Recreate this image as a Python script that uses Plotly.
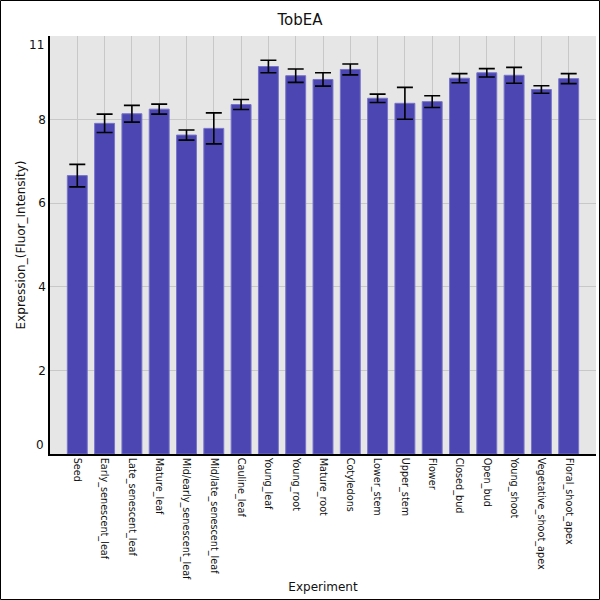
import plotly.graph_objects as go

categories = ["Seed", "Early_senescent_leaf", "Late_senescent_leaf", "Mature_leaf",
              "Mid/early_senescent_leaf", "Mid/late_senescent_leaf", "Cauline_leaf",
              "Young_leaf", "Young_root", "Mature_root", "Cotyledons", "Lower_stem",
              "Upper_stem", "Flower", "Closed_bud", "Open_bud", "Young_shoot",
              "Vegetative_shoot_apex", "Floral_shoot_apex"]
values = [6.66, 7.91, 8.14, 8.25, 7.63, 7.79, 8.36, 9.27, 9.05, 8.96, 9.20, 8.51,
          8.39, 8.43, 8.99, 9.12, 9.06, 8.72, 8.98]
errors = [0.27, 0.22, 0.20, 0.12, 0.12, 0.37, 0.12, 0.15, 0.16, 0.16, 0.13, 0.10,
          0.38, 0.14, 0.11, 0.10, 0.19, 0.09, 0.12]
ytick_vals = [2, 4, 6, 8]
ytick_text = ["2", "4", "6", "8"]
y_edge_labels = ["0", "11"]
y_range = [0, 10]

W, H = 600, 600
ML, MR, MT, MB = 50, 4, 36, 146
PW, PH = W - ML - MR, H - MT - MB

fig = go.Figure()
fig.add_trace(go.Bar(
    x=categories, y=values, width=0.73,
    marker=dict(color="rgb(75,70,178)", line=dict(color="rgb(120,116,200)", width=1)),
    error_y=dict(type="data", array=errors, visible=True, color="black",
                 thickness=1.6, width=8),
))

font = "DejaVu Sans"
fig.update_layout(
    width=W, height=H,
    margin=dict(l=ML, r=MR, t=MT, b=MB, autoexpand=False),
    paper_bgcolor="white", plot_bgcolor="#e6e6e6",
    font=dict(family=font, color="#222", size=12),
    showlegend=False,
    title=dict(text="TobEA", x=0.5, xanchor="center", y=1 - 20 / H, yanchor="middle",
               yref="container", font=dict(size=15, color="#111")),
    xaxis=dict(type="category", range=[-1, len(categories)], showgrid=True,
               gridcolor="#c8c8c8", gridwidth=1, tickangle=90,
               tickfont=dict(size=9.7, color="#111"), ticks="", showline=True,
               linecolor="black", linewidth=1.5, automargin=False,
               title=dict(text="Experiment", standoff=3, font=dict(size=12, color="#111"))),
    yaxis=dict(range=y_range, tickvals=ytick_vals, ticktext=ytick_text, showgrid=True,
               gridcolor="#c8c8c8", gridwidth=1, ticks="", showline=True,
               linecolor="black", linewidth=1.5, zeroline=False, automargin=False,
               tickfont=dict(size=12, color="#111"),
               title=dict(text="Expression_(Fluor_Intensity)", standoff=10,
                          font=dict(size=12, color="#111"))),
    bargap=0.27,
)

fig.add_annotation(text=y_edge_labels[0], xref="paper", x=0, xanchor="right", xshift=-4,
                   yref="y", y=y_range[0], yanchor="bottom", showarrow=False,
                   font=dict(size=12, color="#111"))
fig.add_annotation(text=y_edge_labels[1], xref="paper", x=0, xanchor="right", xshift=-4,
                   yref="y", y=y_range[1], yanchor="top", showarrow=False,
                   font=dict(size=12, color="#111"))

fig.add_shape(type="rect", xref="paper", yref="paper",
              x0=-(ML - 0.5) / PW, x1=1 + (MR - 0.5) / PW,
              y0=-(MB - 0.5) / PH, y1=1 + (MT - 0.5) / PH,
              line=dict(color="black", width=1), fillcolor="rgba(0,0,0,0)", layer="above")

fig.write_html("out.html", config={"displayModeBar": False},
               post_script="document.body.style.margin='0';document.body.style.overflow='hidden';")
